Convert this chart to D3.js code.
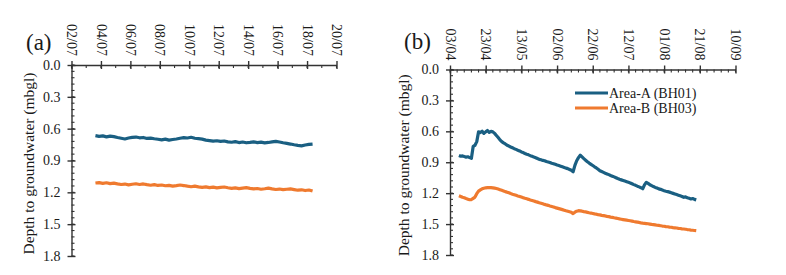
<!DOCTYPE html>
<html>
<head>
<meta charset="utf-8">
<script src="https://cdn.jsdelivr.net/npm/d3@7"></script>
<style>
  body { margin: 0; background: #fff; }
  svg { display: block; }
</style>
</head>
<body>
<svg width="786" height="275"></svg>
<script>
// ---- data ----
// panel (a): logger readings every 6 hours from 03/07 15:00
const startA = "2019-07-03T15:00:00Z";
const stepHoursA = 6;
const bh01A = [0.665,0.672,0.668,0.677,0.670,0.675,0.683,0.690,0.697,0.688,0.682,0.679,0.686,0.683,0.692,0.689,
  0.695,0.700,0.705,0.699,0.708,0.702,0.697,0.690,0.684,0.688,0.681,0.690,0.694,0.699,0.708,0.712,0.718,0.714,
  0.720,0.716,0.724,0.728,0.722,0.731,0.726,0.733,0.729,0.724,0.731,0.727,0.734,0.730,0.725,0.720,0.726,0.733,
  0.739,0.745,0.752,0.758,0.762,0.754,0.748,0.745];
const bh03A = [1.112,1.108,1.115,1.110,1.118,1.113,1.120,1.126,1.122,1.130,1.124,1.119,1.126,1.121,1.128,1.133,
  1.127,1.135,1.131,1.138,1.134,1.142,1.137,1.131,1.136,1.142,1.147,1.141,1.148,1.153,1.149,1.156,1.151,1.158,
  1.154,1.150,1.157,1.163,1.158,1.165,1.160,1.156,1.163,1.168,1.164,1.171,1.166,1.160,1.167,1.173,1.169,1.175,
  1.171,1.168,1.174,1.180,1.176,1.183,1.178,1.188];

// panel (b): daily readings from 08/04
const startB = "2019-04-08T00:00:00Z";
const bh01B = [0.835,0.842,0.838,0.845,0.850,0.847,0.855,0.862,0.745,0.735,0.700,0.605,0.612,0.598,0.620,0.605,
  0.592,0.610,0.600,0.605,0.620,0.640,0.660,0.683,0.700,0.712,0.722,0.735,0.743,0.752,0.760,0.768,0.775,0.783,
  0.790,0.800,0.806,0.815,0.822,0.828,0.836,0.842,0.850,0.856,0.864,0.872,0.876,0.882,0.886,0.893,0.897,0.902,
  0.909,0.914,0.920,0.927,0.932,0.938,0.944,0.950,0.957,0.962,0.970,0.978,0.992,0.930,0.885,0.855,0.832,0.848,
  0.865,0.880,0.895,0.908,0.920,0.932,0.944,0.955,0.968,0.982,0.990,0.998,1.006,1.013,1.020,1.028,1.035,1.042,
  1.050,1.058,1.065,1.071,1.077,1.083,1.089,1.095,1.101,1.109,1.117,1.124,1.132,1.139,1.147,1.157,1.120,1.095,
  1.105,1.118,1.127,1.136,1.144,1.150,1.158,1.163,1.170,1.176,1.181,1.185,1.190,1.196,1.202,1.208,1.214,1.220,
  1.226,1.232,1.240,1.236,1.244,1.250,1.256,1.252,1.260,1.265];
const bh03B = [1.225,1.232,1.240,1.245,1.252,1.258,1.264,1.262,1.250,1.238,1.205,1.180,1.168,1.158,1.152,1.148,
  1.146,1.145,1.146,1.148,1.151,1.155,1.160,1.166,1.172,1.178,1.185,1.191,1.197,1.204,1.210,1.215,1.221,1.227,
  1.232,1.238,1.244,1.250,1.255,1.260,1.266,1.271,1.276,1.282,1.287,1.293,1.298,1.303,1.309,1.314,1.318,1.324,
  1.329,1.334,1.340,1.345,1.350,1.355,1.360,1.365,1.371,1.376,1.381,1.386,1.398,1.385,1.375,1.370,1.372,1.375,
  1.379,1.382,1.386,1.390,1.393,1.397,1.401,1.404,1.408,1.411,1.415,1.418,1.421,1.425,1.428,1.432,1.435,1.439,
  1.442,1.446,1.450,1.453,1.456,1.459,1.462,1.465,1.468,1.471,1.475,1.478,1.481,1.484,1.488,1.491,1.493,1.495,
  1.497,1.500,1.503,1.505,1.508,1.511,1.513,1.516,1.519,1.521,1.524,1.526,1.529,1.531,1.534,1.536,1.538,1.541,
  1.543,1.546,1.548,1.550,1.553,1.555,1.558,1.560,1.562,1.564];

const seriesNames = ["Area-A (BH01)", "Area-B (BH03)"];
const xTicksA = ["2019-07-02","2019-07-04","2019-07-06","2019-07-08","2019-07-10","2019-07-12","2019-07-14","2019-07-16","2019-07-18","2019-07-20"];
const xTicksB = ["2019-04-03","2019-04-23","2019-05-13","2019-06-02","2019-06-22","2019-07-12","2019-08-01","2019-08-21","2019-09-10"];
const yTicks = [0, 0.3, 0.6, 0.9, 1.2, 1.5, 1.8];
const yTitle = "Depth to groundwater (mbgl)";

// ---- styles ----
const svg = d3.select("svg");
const font = "'Liberation Serif', 'Times New Roman', serif";
const colors = ["#1a5f82", "#ef7a2f"];
const axisColor = "#333";
const textColor = "#1a1a1a";

const parse = s => new Date(s);
const fmt = d3.utcFormat("%d/%m");

function toPoints(start, stepHours, values) {
  const t0 = parse(start);
  return values.map((v, i) => ({ date: d3.utcHour.offset(t0, i * stepHours), value: v }));
}

function drawPanel(opt) {
  const g = svg.append("g");
  const x = d3.scaleUtc().domain([parse(opt.ticks[0]), parse(opt.ticks[opt.ticks.length - 1])]).range(opt.xRange);
  const y = d3.scaleLinear().domain([0, 1.8]).range(opt.yRange);
  const x0 = opt.xRange[0], y0 = opt.yRange[0];

  // minor ticks
  const minorX = d3.utcDay.range(x.domain()[0], d3.utcDay.offset(x.domain()[1], 1), opt.minorDays);
  g.append("g").selectAll("line").data(minorX).join("line")
    .attr("x1", d => x(d)).attr("x2", d => x(d))
    .attr("y1", y0).attr("y2", y0 + 3)
    .attr("stroke", axisColor).attr("stroke-width", 1.1);
  const minorY = d3.range(0, 31).map(i => i * 0.06);
  g.append("g").selectAll("line").data(minorY).join("line")
    .attr("x1", x0).attr("x2", x0 + 3)
    .attr("y1", d => y(d)).attr("y2", d => y(d))
    .attr("stroke", axisColor).attr("stroke-width", 1.1);

  // top x axis
  const xa = g.append("g").attr("transform", `translate(0,${y0})`)
    .call(d3.axisTop(x).tickValues(opt.ticks.map(parse)).tickFormat(fmt).tickSize(4).tickSizeOuter(0));
  xa.selectAll(".tick line").attr("y1", 4);
  xa.selectAll(".tick text")
    .attr("x", 0).attr("y", 0).attr("dy", "0.35em")
    .attr("transform", "translate(0,-9) rotate(90)")
    .attr("text-anchor", "end");

  // left y axis
  const ya = g.append("g").attr("transform", `translate(${x0},0)`)
    .call(d3.axisLeft(y).tickValues(yTicks).tickFormat(d3.format(".1f")).tickSize(4).tickSizeOuter(0).tickPadding(7));
  ya.selectAll(".tick line").attr("x1", 4);

  [xa, ya].forEach(a => {
    a.select(".domain").attr("stroke", axisColor).attr("stroke-width", 1.4);
    a.selectAll(".tick line").attr("stroke", axisColor).attr("stroke-width", 1.4);
    a.selectAll(".tick text").attr("fill", textColor).style("font-family", font).style("font-size", "14px");
  });

  // series
  const line = d3.line().x(d => x(d.date)).y(d => y(d.value));
  opt.series.forEach((s, i) => {
    g.append("path").datum(s)
      .attr("d", line)
      .attr("fill", "none")
      .attr("stroke", colors[i])
      .attr("stroke-width", 3.2)
      .attr("stroke-linejoin", "round");
  });

  // y title
  g.append("text")
    .attr("transform", `translate(${opt.titleX},${(opt.yRange[0] + opt.yRange[1]) / 2 + 3}) rotate(-90)`)
    .attr("text-anchor", "middle")
    .attr("fill", textColor)
    .style("font-family", font).style("font-size", "15.5px")
    .text(yTitle);

  // panel letter
  g.append("text")
    .attr("x", opt.letterPos[0]).attr("y", opt.letterPos[1])
    .attr("fill", textColor)
    .style("font-family", font).style("font-size", "23px")
    .text(opt.letter);

  return { g, x, y };
}

drawPanel({
  xRange: [71.5, 336.5], yRange: [65, 256], ticks: xTicksA, minorDays: 1,
  series: [toPoints(startA, stepHoursA, bh01A), toPoints(startA, stepHoursA, bh03A)],
  titleX: 34, letter: "(a)", letterPos: [26, 50]
});

drawPanel({
  xRange: [450, 735.5], yRange: [69.5, 255], ticks: xTicksB, minorDays: 4,
  series: [toPoints(startB, 24, bh01B), toPoints(startB, 24, bh03B)],
  titleX: 409, letter: "(b)", letterPos: [404, 49]
});

// legend
const legend = svg.append("g").attr("transform", "translate(575,93)");
seriesNames.forEach((name, i) => {
  const row = legend.append("g").attr("transform", `translate(0,${i * 15})`);
  row.append("line").attr("x1", 0).attr("x2", 33).attr("y1", 0).attr("y2", 0)
    .attr("stroke", colors[i]).attr("stroke-width", 3);
  row.append("text").attr("x", 34).attr("y", 4.8)
    .attr("fill", textColor)
    .style("font-family", font).style("font-size", "14px")
    .text(name);
});
</script>
</body>
</html>
